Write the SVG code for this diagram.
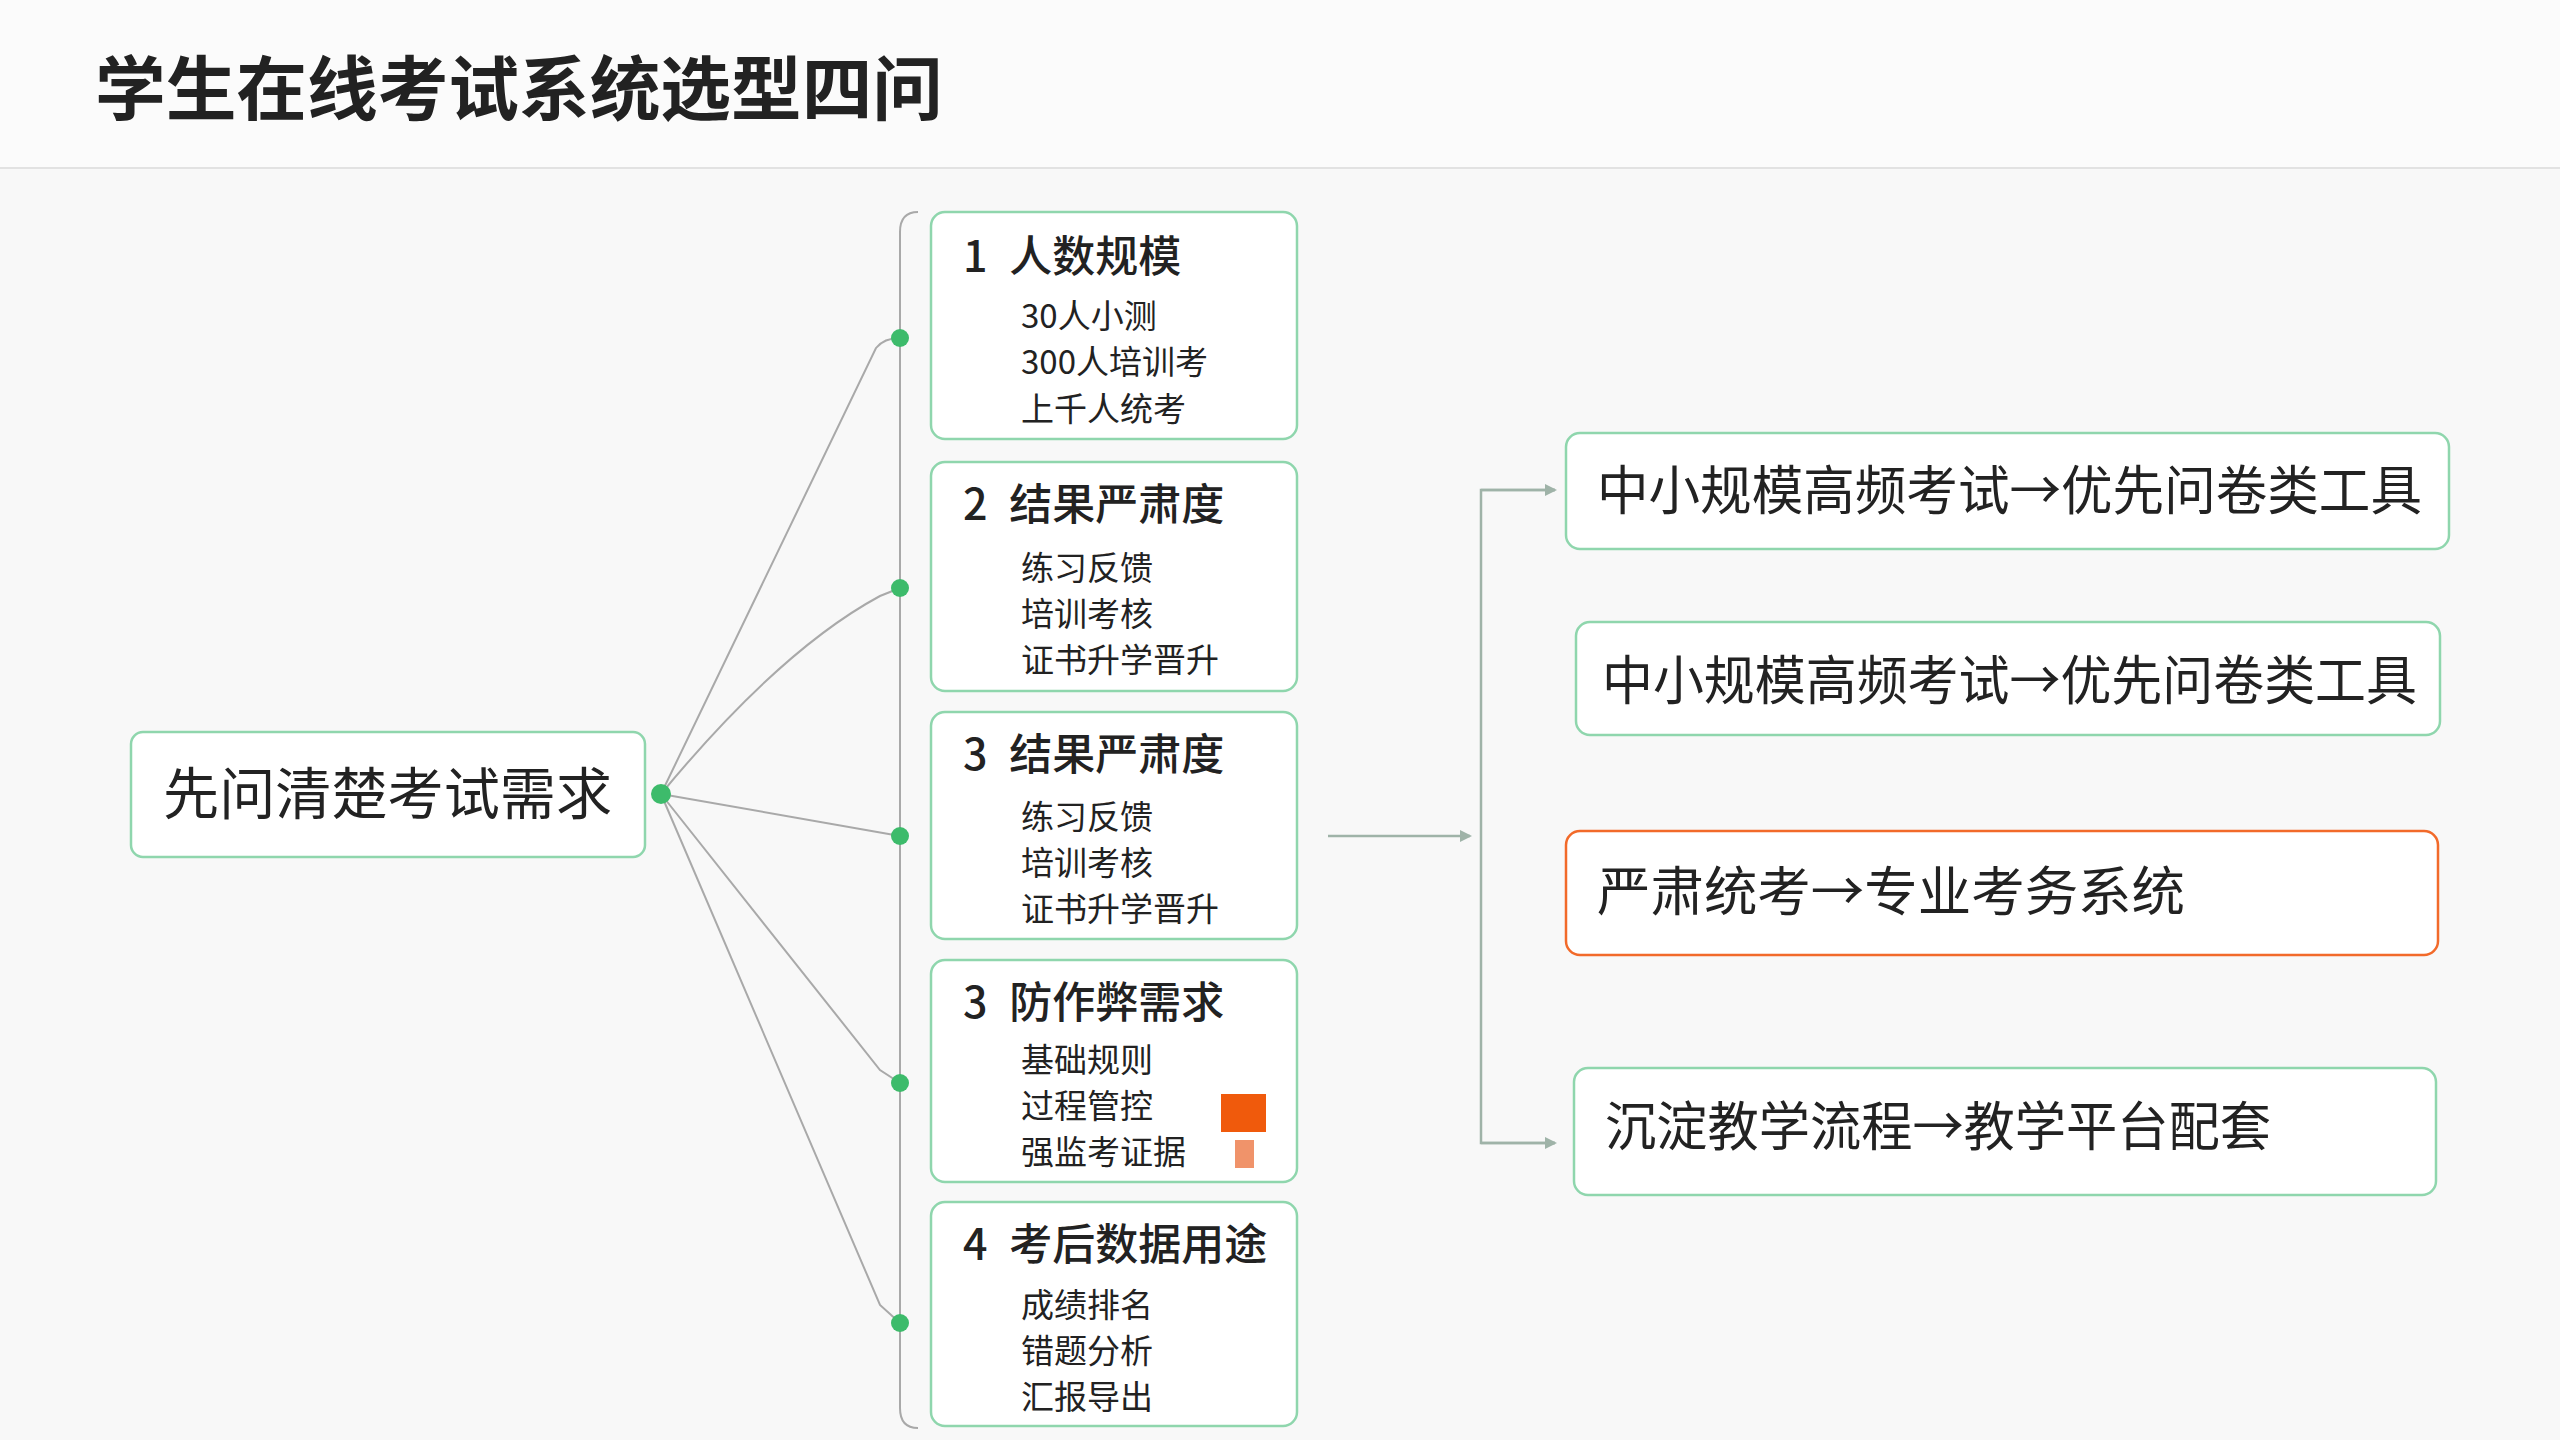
<svg xmlns="http://www.w3.org/2000/svg" width="2560" height="1440" viewBox="0 0 2560 1440">
<defs>
<style>
text{font-family:"Noto Sans CJK SC","Liberation Sans",sans-serif;fill:#222}
.card{fill:#fff;stroke:#8fd6ad;stroke-width:2.5}
.ct{font-size:43px;font-weight:500}
.cs{font-size:33px}
.rt{font-size:53px}
.ln{fill:none;stroke:#a9a9a9;stroke-width:2}
.dot{fill:#3dbb6b}
.ar{fill:none;stroke:#9fb3a8;stroke-width:2.5}
</style>
<marker id="ah" markerWidth="12" markerHeight="12" refX="10" refY="6" orient="auto" markerUnits="userSpaceOnUse"><path d="M0,0 L12,6 L0,12 Z" fill="#9fb3a8"/></marker>
</defs>
<rect width="2560" height="1440" fill="#f8f8f8"/>
<rect width="2560" height="168" fill="#fbfbfb"/>
<line x1="0" y1="168" x2="2560" y2="168" stroke="#e2e2e2" stroke-width="2"/>
<text x="95" y="115" style="font-size:70px;font-weight:700" textLength="848" lengthAdjust="spacingAndGlyphs">学生在线考试系统选型四问</text>

<g id="connectors">
<path class="ln" d="M918,212 Q900,212 900,232 L900,1408 Q900,1428 918,1428"/>
<path class="ln" d="M661,794 L876,348 Q884,338 900,338"/>
<path class="ln" d="M661,794 Q780,650 880,596 L900,588"/>
<path class="ln" d="M661,794 L900,836"/>
<path class="ln" d="M661,794 L880,1070 L900,1083"/>
<path class="ln" d="M661,794 L880,1305 L900,1323"/>
<line class="ar" x1="1328" y1="836" x2="1470" y2="836" marker-end="url(#ah)"/>
<path class="ar" d="M1555,490 L1481,490 L1481,1143 L1555,1143"/>
<line class="ar" x1="1481" y1="490" x2="1555" y2="490" marker-end="url(#ah)"/>
<line class="ar" x1="1481" y1="1143" x2="1555" y2="1143" marker-end="url(#ah)"/>
</g>

<g id="root">
<rect x="131" y="732" width="514" height="125" rx="12" class="card"/>
<text x="163" y="814" style="font-size:56px" textLength="449" lengthAdjust="spacingAndGlyphs">先问清楚考试需求</text>
<circle cx="661" cy="794" r="10" class="dot"/>
</g>

<g id="card1">
<rect x="931" y="212" width="366" height="227" rx="14" class="card"/>
<text x="963" y="272" class="ct">1 <tspan dx="12">人数规模</tspan></text>
<text x="1021" y="328" class="cs">30人小测</text>
<text x="1021" y="374" class="cs">300人培训考</text>
<text x="1021" y="421" class="cs">上千人统考</text>
<circle cx="900" cy="338" r="9" class="dot"/>
</g>
<g id="card2">
<rect x="931" y="462" width="366" height="229" rx="14" class="card"/>
<text x="963" y="520" class="ct">2 <tspan dx="12">结果严肃度</tspan></text>
<text x="1021" y="580" class="cs">练习反馈</text>
<text x="1021" y="626" class="cs">培训考核</text>
<text x="1021" y="672" class="cs">证书升学晋升</text>
<circle cx="900" cy="588" r="9" class="dot"/>
</g>
<g id="card3">
<rect x="931" y="712" width="366" height="227" rx="14" class="card"/>
<text x="963" y="770" class="ct">3 <tspan dx="12">结果严肃度</tspan></text>
<text x="1021" y="829" class="cs">练习反馈</text>
<text x="1021" y="875" class="cs">培训考核</text>
<text x="1021" y="921" class="cs">证书升学晋升</text>
<circle cx="900" cy="836" r="9" class="dot"/>
</g>
<g id="card4">
<rect x="931" y="960" width="366" height="222" rx="14" class="card"/>
<text x="963" y="1018" class="ct">3 <tspan dx="12">防作弊需求</tspan></text>
<text x="1021" y="1072" class="cs">基础规则</text>
<text x="1021" y="1118" class="cs">过程管控</text>
<text x="1021" y="1164" class="cs">强监考证据</text>
<rect x="1221" y="1094" width="45" height="38" fill="#f05a0c"/>
<rect x="1235" y="1140" width="19" height="28" fill="#f0936a"/>
<circle cx="900" cy="1083" r="9" class="dot"/>
</g>
<g id="card5">
<rect x="931" y="1202" width="366" height="224" rx="14" class="card"/>
<text x="963" y="1260" class="ct">4 <tspan dx="12">考后数据用途</tspan></text>
<text x="1021" y="1317" class="cs">成绩排名</text>
<text x="1021" y="1363" class="cs">错题分析</text>
<text x="1021" y="1409" class="cs">汇报导出</text>
<circle cx="900" cy="1323" r="9" class="dot"/>
</g>

<g id="r1">
<rect x="1566" y="433" width="883" height="116" rx="14" class="card"/>
<text x="1597" y="510" class="rt" textLength="825" lengthAdjust="spacingAndGlyphs">中小规模高频考试→优先问卷类工具</text>
</g>
<g id="r2">
<rect x="1576" y="622" width="864" height="113" rx="14" class="card"/>
<text x="1602" y="700" class="rt" textLength="815" lengthAdjust="spacingAndGlyphs">中小规模高频考试→优先问卷类工具</text>
</g>
<g id="r3">
<rect x="1566" y="831" width="872" height="124" rx="14" fill="#fff" stroke="#f26a2a" stroke-width="2.5"/>
<text x="1597" y="911" class="rt" textLength="588" lengthAdjust="spacingAndGlyphs">严肃统考→专业考务系统</text>
</g>
<g id="r4">
<rect x="1574" y="1068" width="862" height="127" rx="14" class="card"/>
<text x="1605" y="1146" class="rt" textLength="666" lengthAdjust="spacingAndGlyphs">沉淀教学流程→教学平台配套</text>
</g>
</svg>
